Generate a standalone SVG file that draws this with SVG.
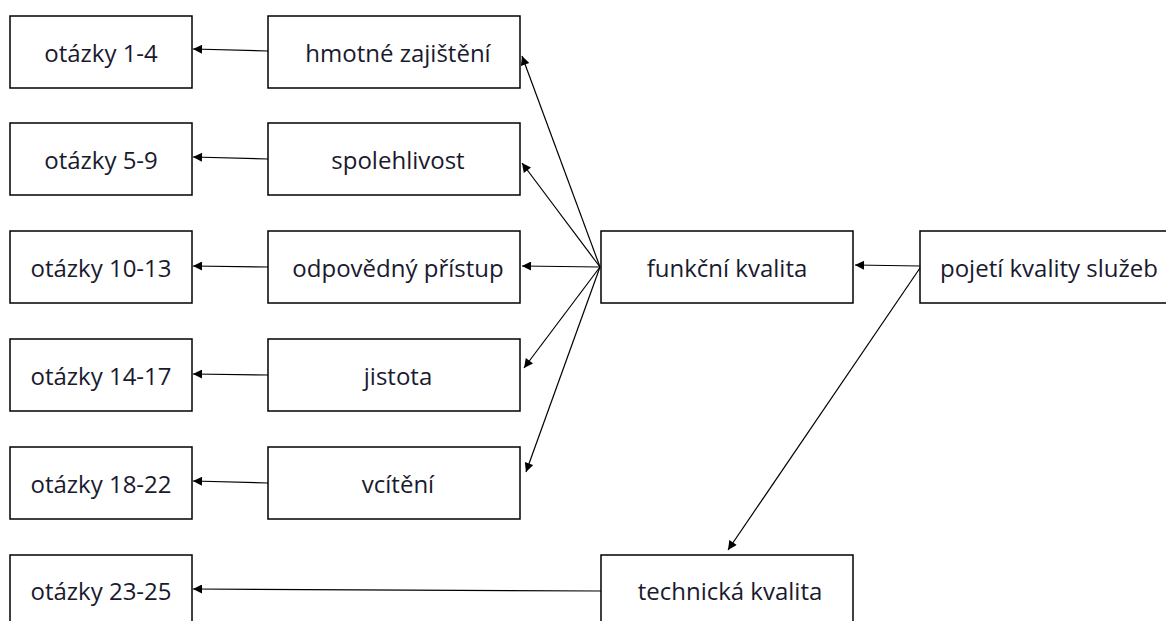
<svg xmlns="http://www.w3.org/2000/svg" width="1166" height="621" viewBox="0 0 1166 621">
  <style>
    .box rect { fill: #fff; stroke: #000; stroke-width: 1.5; }
    .box text { font-family: "Open Sans", "Liberation Sans", sans-serif; font-size: 24px; fill: #1a1a2e; text-anchor: middle; dominant-baseline: central; }
    .edge { stroke: #000; stroke-width: 1.2; fill: none; marker-end: url(#arrow); }
  </style>
  <defs>
    <marker id="arrow" viewBox="0 0 10 10" refX="10" refY="5" markerWidth="11" markerHeight="9" markerUnits="userSpaceOnUse" orient="auto">
      <path d="M0,0 L10,5 L0,10 z" fill="#000"/>
    </marker>
  </defs>
  <rect width="1166" height="621" fill="#fff"/>

  <!-- question groups -->
  <g id="q1-4" class="box"><rect x="10" y="16" width="182" height="72"/><text x="101" y="52">otázky 1-4</text></g>
  <g id="q5-9" class="box"><rect x="10" y="123" width="182" height="72"/><text x="101" y="159">otázky 5-9</text></g>
  <g id="q10-13" class="box"><rect x="10" y="231" width="182" height="72"/><text x="101" y="267">otázky 10-13</text></g>
  <g id="q14-17" class="box"><rect x="10" y="339" width="182" height="72"/><text x="101" y="375">otázky 14-17</text></g>
  <g id="q18-22" class="box"><rect x="10" y="447" width="182" height="72"/><text x="101" y="483">otázky 18-22</text></g>
  <g id="q23-25" class="box"><rect x="10" y="555" width="182" height="72"/><text x="101" y="590">otázky 23-25</text></g>

  <!-- dimensions of functional quality -->
  <g id="hmotne" class="box"><rect x="268" y="16" width="252" height="72"/><text x="398" y="52">hmotné zajištění</text></g>
  <g id="spolehlivost" class="box"><rect x="268" y="123" width="252" height="72"/><text x="398" y="159">spolehlivost</text></g>
  <g id="pristup" class="box"><rect x="268" y="231" width="252" height="72"/><text x="398" y="267">odpovědný přístup</text></g>
  <g id="jistota" class="box"><rect x="268" y="339" width="252" height="72"/><text x="398" y="375">jistota</text></g>
  <g id="vciteni" class="box"><rect x="268" y="447" width="252" height="72"/><text x="398" y="483">vcítění</text></g>

  <!-- quality kinds -->
  <g id="funkcni" class="box"><rect x="601" y="231" width="252" height="72"/><text x="727" y="267">funkční kvalita</text></g>
  <g id="technicka" class="box"><rect x="601" y="555" width="252" height="72"/><text x="730" y="590">technická kvalita</text></g>
  <g id="pojeti" class="box"><rect x="920" y="231" width="250" height="72"/><text x="1049" y="267">pojetí kvality služeb</text></g>

  <g id="connectors">
    <line class="edge" x1="268" y1="51" x2="193" y2="49"/>
    <line class="edge" x1="268" y1="159" x2="193" y2="157"/>
    <line class="edge" x1="268" y1="267" x2="193" y2="266"/>
    <line class="edge" x1="268" y1="375" x2="193" y2="374"/>
    <line class="edge" x1="268" y1="483" x2="193" y2="481"/>
    <line class="edge" x1="601" y1="591" x2="193" y2="589"/>

    <line class="edge" x1="600" y1="267" x2="522" y2="56"/>
    <line class="edge" x1="600" y1="267" x2="522" y2="163"/>
    <line class="edge" x1="600" y1="267" x2="522" y2="266"/>
    <line class="edge" x1="600" y1="267" x2="524" y2="368"/>
    <line class="edge" x1="600" y1="267" x2="526" y2="472"/>

    <line class="edge" x1="920" y1="266" x2="855" y2="265"/>
    <line class="edge" x1="920" y1="268" x2="728" y2="550"/>
  </g>
</svg>
